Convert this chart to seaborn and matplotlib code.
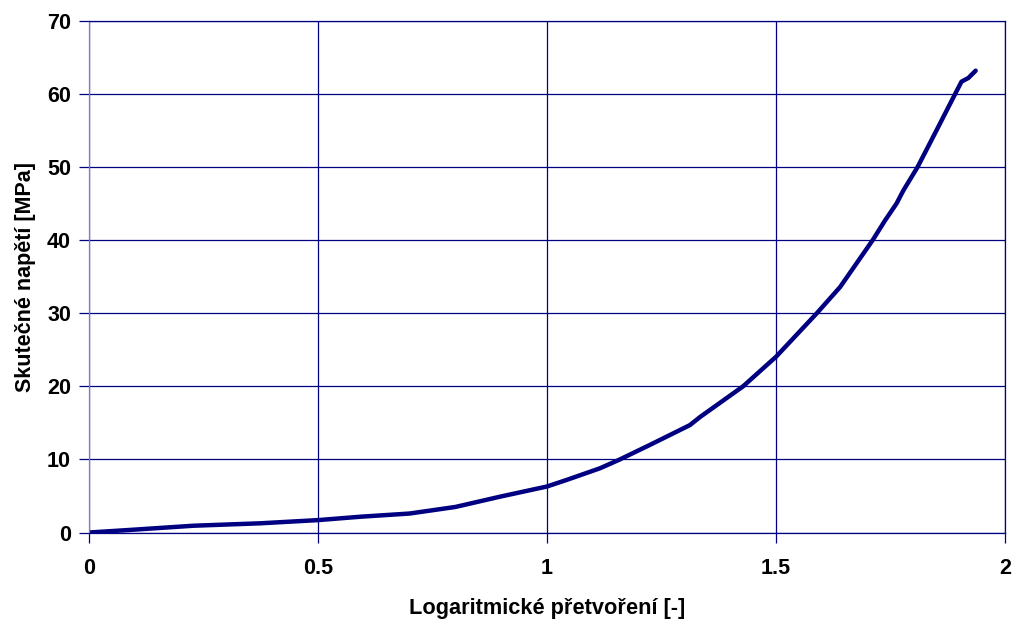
import matplotlib
matplotlib.use("Agg")
import matplotlib.pyplot as plt
import seaborn as sns
import pandas as pd

strain = [0.0, 0.1, 0.228, 0.373, 0.5, 0.592, 0.7, 0.8, 0.897, 1.0, 1.043, 1.116,
          1.159, 1.225, 1.312, 1.334, 1.428, 1.5, 1.589, 1.640, 1.711, 1.738,
          1.763, 1.778, 1.809, 1.851, 1.891, 1.905, 1.92, 1.936]
stress = [0.0, 0.4, 0.93, 1.26, 1.7, 2.16, 2.6, 3.5, 4.9, 6.3, 7.2, 8.8,
          10.0, 12.0, 14.7, 15.8, 20.0, 24.05, 30.0, 33.6, 40.0, 42.7,
          45.0, 46.8, 50.0, 55.1, 60.0, 61.7, 62.2, 63.2]
x_ticks = [0, 0.5, 1, 1.5, 2]
x_tick_labels = ["0", "0.5", "1", "1.5", "2"]
y_ticks = [0, 10, 20, 30, 40, 50, 60, 70]

sns.set_theme(style="white")
plt.rcParams['font.family'] = ['Liberation Sans', 'DejaVu Sans']
plt.rcParams['text.color'] = 'black'
plt.rcParams['axes.labelcolor'] = 'black'
plt.rcParams['xtick.color'] = 'black'
plt.rcParams['ytick.color'] = 'black'

navy = "#000080"
df = pd.DataFrame({"strain": strain, "stress": stress})

fig = plt.figure(figsize=(10.13, 6.19), dpi=100)
ax = fig.add_axes([0.0879, 0.1397, 0.9042, 0.8264])
sns.lineplot(data=df, x="strain", y="stress", sort=False, color=navy,
             linewidth=3.2, ax=ax, solid_capstyle="round", solid_joinstyle="round")

ax.set_xlim(0, 2)
ax.set_ylim(0, 70)
ax.set_xticks(x_ticks)
ax.set_xticklabels(x_tick_labels)
ax.set_yticks(y_ticks)
ax.grid(True, color=navy, linewidth=0.9)
ax.set_axisbelow(True)
for s in ax.spines.values():
    s.set_visible(True)
    s.set_color(navy)
    s.set_linewidth(0.9)
ax.spines['left'].set_color("#7f7fa8")
ax.tick_params(axis="both", which="major", length=7, width=0.9, color=navy,
               direction="out", bottom=True, left=True, labelsize=15.5,
               labelcolor="black")
ax.tick_params(axis="x", pad=11)
ax.tick_params(axis="y", pad=6)
for lab in ax.get_xticklabels() + ax.get_yticklabels():
    lab.set_fontweight("bold")
ax.set_xlabel("Logaritmické přetvoření [-]", fontsize=15.7, fontweight="bold",
              labelpad=14, color="black")
ax.set_ylabel("Skutečné napětí [MPa]", fontsize=15.5, fontweight="bold",
              labelpad=8, color="black")

fig.savefig("out.png", dpi=100)
